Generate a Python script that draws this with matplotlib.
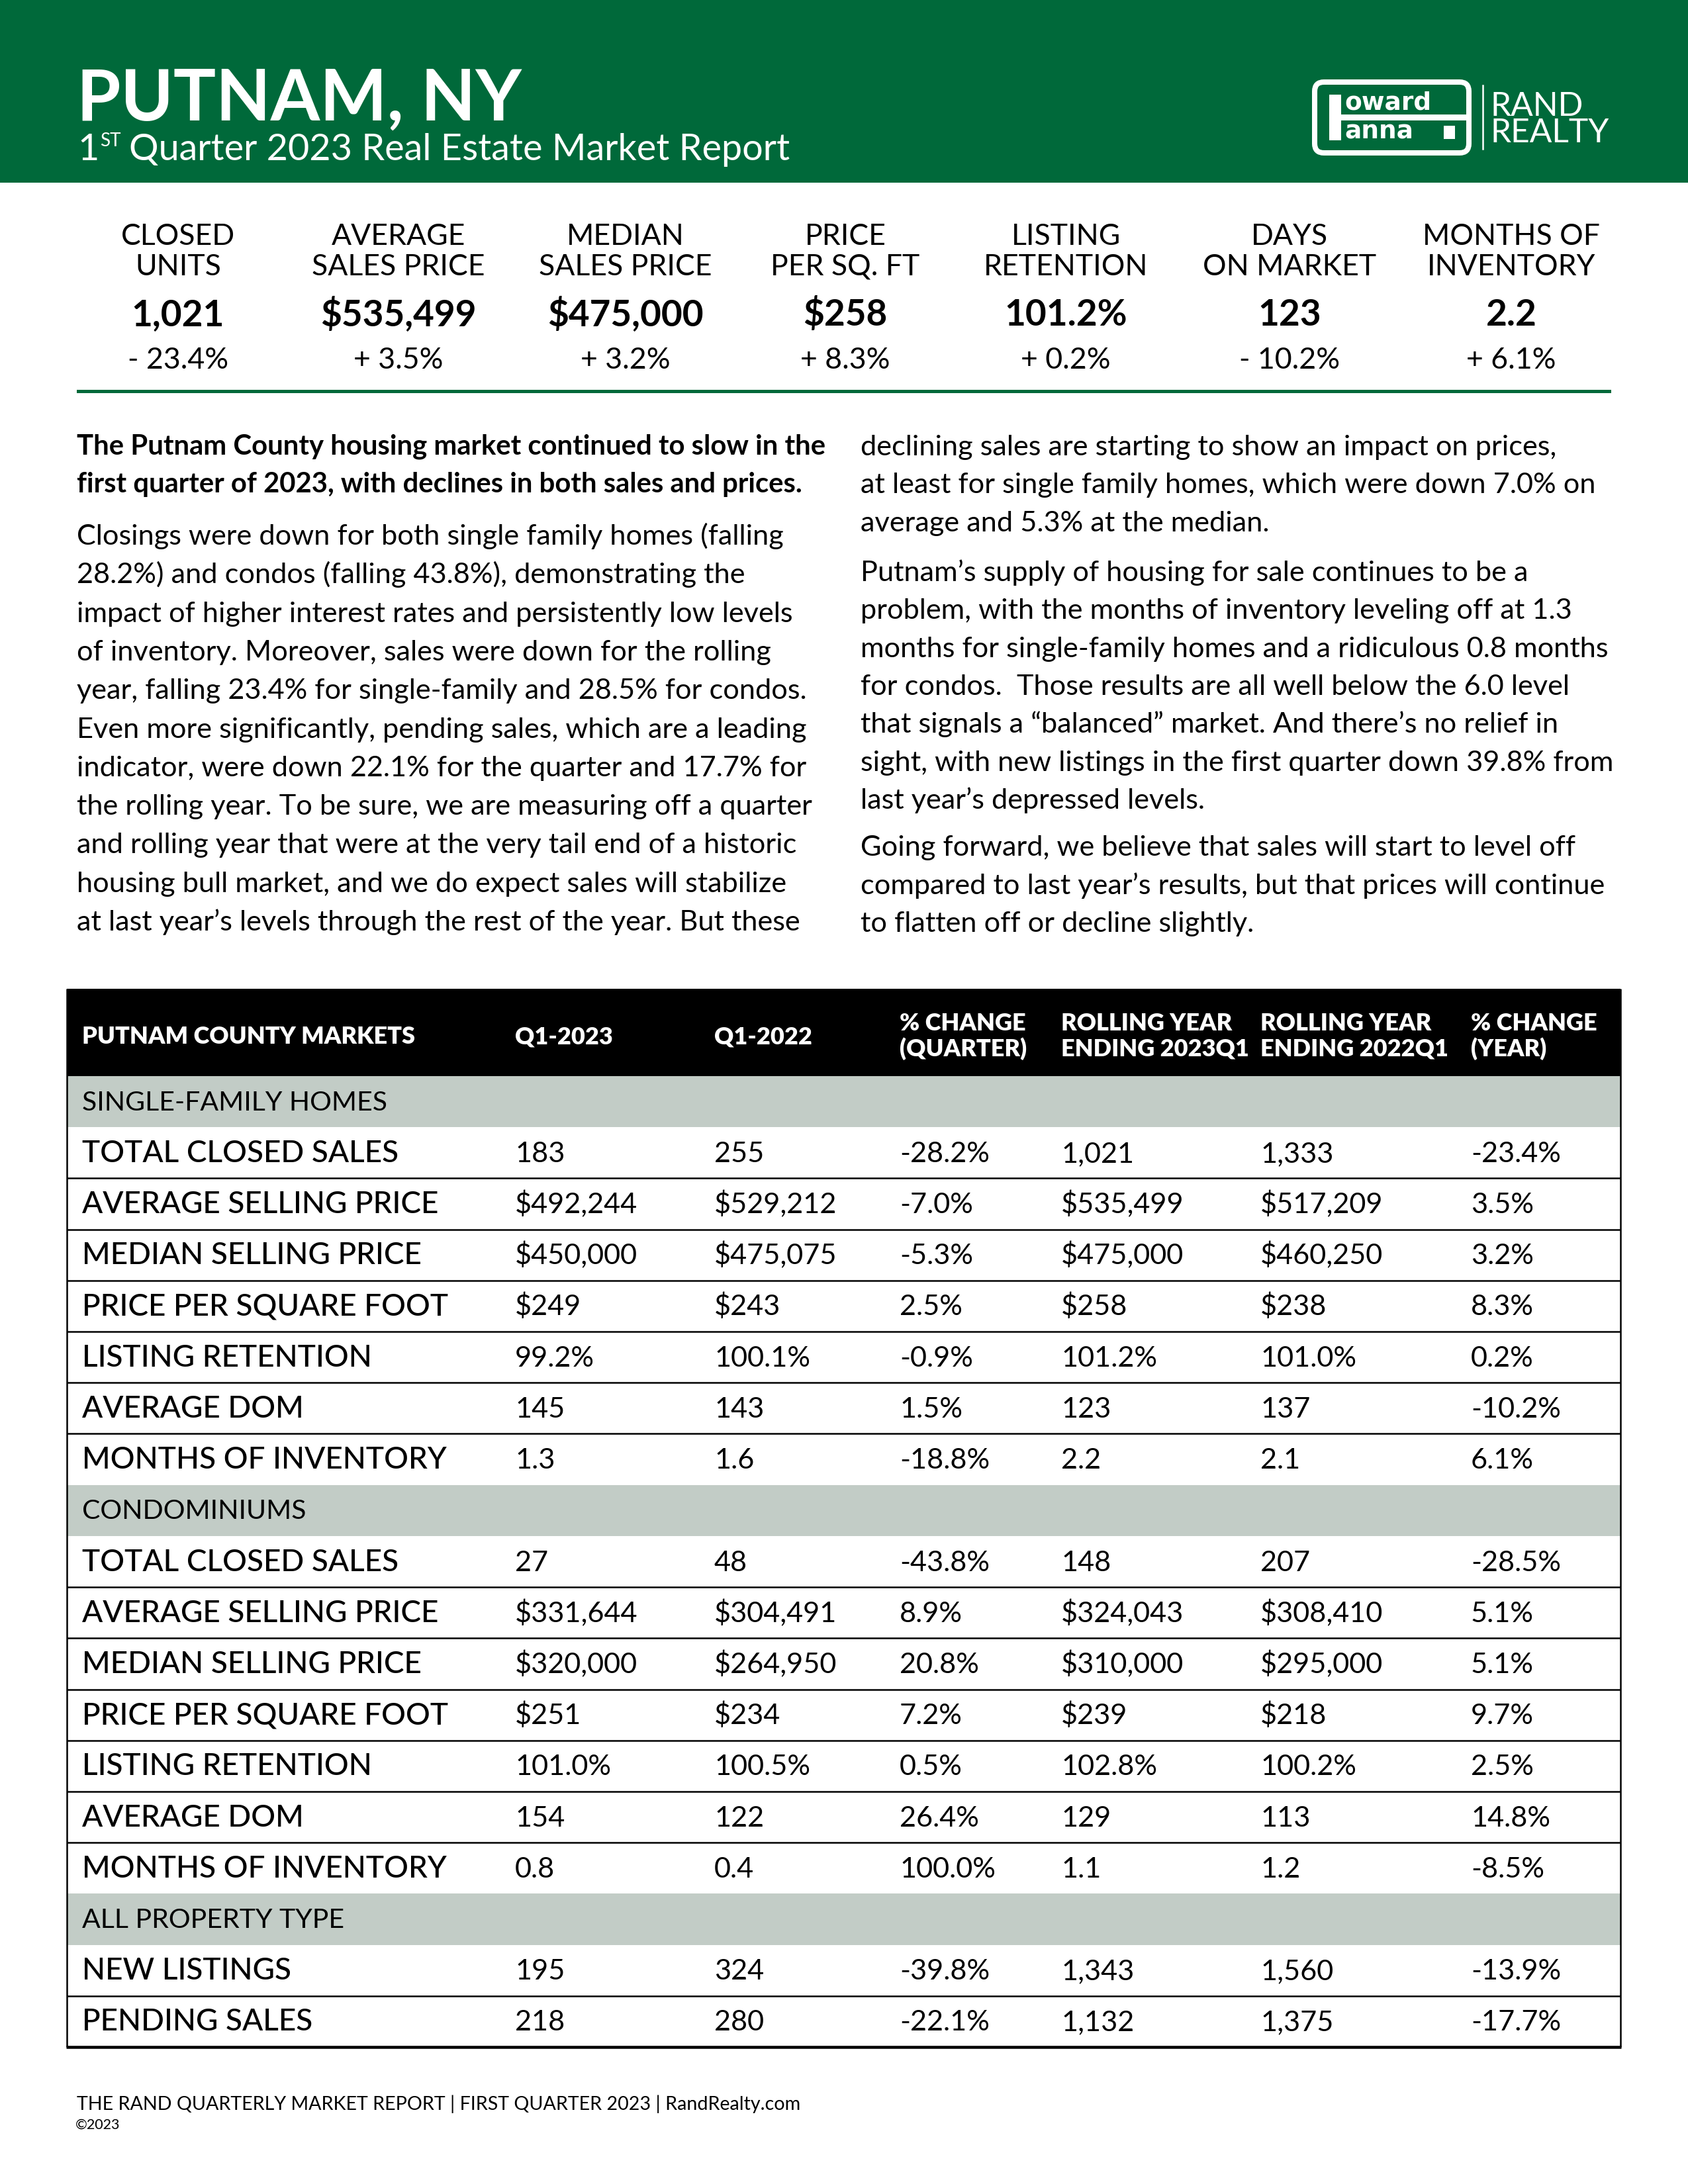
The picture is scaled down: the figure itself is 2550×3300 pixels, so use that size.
import matplotlib
matplotlib.use('Agg')
import matplotlib.pyplot as plt
from matplotlib.patches import Rectangle, FancyBboxPatch

# ---------------- DATA ----------------
title = "PUTNAM, NY"
subtitle_rest = "Quarter 2023 Real Estate Market Report"

stat_labels_1 = ["CLOSED", "AVERAGE", "MEDIAN", "PRICE", "LISTING", "DAYS", "MONTHS OF"]
stat_labels_2 = ["UNITS", "SALES PRICE", "SALES PRICE", "PER SQ. FT", "RETENTION", "ON MARKET", "INVENTORY"]
stat_values = ["1,021", "$535,499", "$475,000", "$258", "101.2%", "123", "2.2"]
stat_changes = ["- 23.4%", "+ 3.5%", "+ 3.2%", "+ 8.3%", "+ 0.2%", "- 10.2%", "+ 6.1%"]

intro_bold = ["The Putnam County housing market continued to slow in the",
              "first quarter of 2023, with declines in both sales and prices."]
left_para = ["Closings were down for both single family homes (falling",
             "28.2%) and condos (falling 43.8%), demonstrating the",
             "impact of higher interest rates and persistently low levels",
             "of inventory. Moreover, sales were down for the rolling",
             "year, falling 23.4% for single-family and 28.5% for condos.",
             "Even more significantly, pending sales, which are a leading",
             "indicator, were down 22.1% for the quarter and 17.7% for",
             "the rolling year. To be sure, we are measuring off a quarter",
             "and rolling year that were at the very tail end of a historic",
             "housing bull market, and we do expect sales will stabilize",
             "at last year\u2019s levels through the rest of the year. But these"]
right_para1 = ["declining sales are starting to show an impact on prices,",
               "at least for single family homes, which were down 7.0% on",
               "average and 5.3% at the median."]
right_para2 = ["Putnam\u2019s supply of housing for sale continues to be a",
               "problem, with the months of inventory leveling off at 1.3",
               "months for single-family homes and a ridiculous 0.8 months",
               "for condos.  Those results are all well below the 6.0 level",
               "that signals a \u201cbalanced\u201d market. And there\u2019s no relief in",
               "sight, with new listings in the first quarter down 39.8% from",
               "last year\u2019s depressed levels."]
right_para3 = ["Going forward, we believe that sales will start to level off",
               "compared to last year\u2019s results, but that prices will continue",
               "to flatten off or decline slightly."]

col_headers = ["PUTNAM COUNTY MARKETS", "Q1-2023", "Q1-2022", "% CHANGE\n(QUARTER)",
               "ROLLING YEAR\nENDING 2023Q1", "ROLLING YEAR\nENDING 2022Q1", "% CHANGE\n(YEAR)"]

sections = ["SINGLE-FAMILY HOMES", "CONDOMINIUMS", "ALL PROPERTY TYPE"]

sf_metrics = ["TOTAL CLOSED SALES", "AVERAGE SELLING PRICE", "MEDIAN SELLING PRICE",
              "PRICE PER SQUARE FOOT", "LISTING RETENTION", "AVERAGE DOM", "MONTHS OF INVENTORY"]
sf_q1_2023 = ["183", "$492,244", "$450,000", "$249", "99.2%", "145", "1.3"]
sf_q1_2022 = ["255", "$529,212", "$475,075", "$243", "100.1%", "143", "1.6"]
sf_chg_q = ["-28.2%", "-7.0%", "-5.3%", "2.5%", "-0.9%", "1.5%", "-18.8%"]
sf_roll_2023 = ["1,021", "$535,499", "$475,000", "$258", "101.2%", "123", "2.2"]
sf_roll_2022 = ["1,333", "$517,209", "$460,250", "$238", "101.0%", "137", "2.1"]
sf_chg_y = ["-23.4%", "3.5%", "3.2%", "8.3%", "0.2%", "-10.2%", "6.1%"]

condo_metrics = sf_metrics
condo_q1_2023 = ["27", "$331,644", "$320,000", "$251", "101.0%", "154", "0.8"]
condo_q1_2022 = ["48", "$304,491", "$264,950", "$234", "100.5%", "122", "0.4"]
condo_chg_q = ["-43.8%", "8.9%", "20.8%", "7.2%", "0.5%", "26.4%", "100.0%"]
condo_roll_2023 = ["148", "$324,043", "$310,000", "$239", "102.8%", "129", "1.1"]
condo_roll_2022 = ["207", "$308,410", "$295,000", "$218", "100.2%", "113", "1.2"]
condo_chg_y = ["-28.5%", "5.1%", "5.1%", "9.7%", "2.5%", "14.8%", "-8.5%"]

all_metrics = ["NEW LISTINGS", "PENDING SALES"]
all_q1_2023 = ["195", "218"]
all_q1_2022 = ["324", "280"]
all_chg_q = ["-39.8%", "-22.1%"]
all_roll_2023 = ["1,343", "1,132"]
all_roll_2022 = ["1,560", "1,375"]
all_chg_y = ["-13.9%", "-17.7%"]

footer = "THE RAND QUARTERLY MARKET REPORT | FIRST QUARTER 2023 | RandRealty.com"
copyright_txt = "\u00a92023"

# ---------------- STYLE ----------------
GREEN = '#00693A'
GRAY = '#C2CCC6'
FAM = ['Lato', 'DejaVu Sans']
LOGO_FAM = ['DejaVu Sans']
W, H, DPI = 2550, 3300, 300
PT = 72.0 / DPI  # points per pixel

fig = plt.figure(figsize=(W / DPI, H / DPI), dpi=DPI)
ax = fig.add_axes([0, 0, 1, 1])
ax.set_xlim(0, W)
ax.set_ylim(H, 0)
ax.axis('off')
renderer = fig.canvas.get_renderer()


def tw(s, size, weight='normal', family=FAM):
    t = ax.text(0, 0, s, fontsize=size, fontweight=weight, family=family)
    w = t.get_window_extent(renderer).width
    t.remove()
    return w


def fit(s, target, weight='normal', family=FAM):
    return 20.0 * target / tw(s, 20, weight, family)


def put(x, y, s, size, weight='normal', color='black', ha='left', family=FAM):
    ax.text(x, y, s, fontsize=size, fontweight=weight, family=family,
            color=color, ha=ha, va='baseline')


# ---------------- HEADER ----------------
ax.add_patch(Rectangle((0, 0), W, 276, color=GREEN, lw=0))
put(116, 182, title, fit(title, 673, 'bold'), 'bold', 'white')

sub_size = fit(subtitle_rest, 998)
put(117, 242, "1", sub_size, 'normal', 'white')
st_x = 117 + tw("1", sub_size) + 2
put(st_x, 221, "ST", sub_size * 0.5, 'normal', 'white')
put(195, 242, subtitle_rest, sub_size, 'normal', 'white')

# logo
ax.add_patch(FancyBboxPatch((1986, 124), 233, 107,
                            boxstyle="round,pad=0,rounding_size=14",
                            fill=False, ec='white', lw=8 * PT))
ax.add_patch(Rectangle((2008, 143), 18, 69, color='white', lw=0))
ax.add_patch(Rectangle((2008, 173), 207, 9, color='white', lw=0))
logo_txt_size = 9.0
put(2031, 166, "oward", logo_txt_size, 'bold', 'white', family=LOGO_FAM)
put(2031, 210, "anna", logo_txt_size, 'bold', 'white', family=LOGO_FAM)
ax.add_patch(Rectangle((2181, 190), 17, 20, color='white', lw=0))
ax.plot([2240, 2240], [129, 225], color='white', lw=2.5 * PT)
logo_size = fit("REALTY", 180)
put(2252, 175, "RAND", logo_size, 'normal', 'white')
put(2252, 215, "REALTY", logo_size, 'normal', 'white')

# ---------------- KEY STATS ----------------
stat_x = [269, 602, 945, 1277, 1610, 1948, 2283]
lab_size = fit("SALES PRICE", 261)
val_size = fit("$535,499", 236, 'bold')
chg_size = fit("- 23.4%", 152)
for i, x in enumerate(stat_x):
    put(x, 370, stat_labels_1[i], lab_size, ha='center')
    put(x, 416, stat_labels_2[i], lab_size, ha='center')
    put(x, 492, stat_values[i], val_size, 'bold', ha='center')
    put(x, 557, stat_changes[i], chg_size, ha='center')
ax.add_patch(Rectangle((116, 589), 2434 - 116, 4.5, color=GREEN, lw=0))

# ---------------- BODY TEXT ----------------
body_size = fit(left_para[0], 1071)
bold_size = fit(intro_bold[0], 1134, 'bold')
put(116, 686, intro_bold[0], bold_size, 'bold')
put(116, 744, intro_bold[1], bold_size, 'bold')
for i, line in enumerate(left_para):
    put(116, 823 + 58.3 * i, line, body_size)

RX = 1300
for i, line in enumerate(right_para1):
    put(RX, 688 + 57.5 * i, line, body_size)
for i, line in enumerate(right_para2):
    put(RX, 878 + 57.3 * i, line, body_size)
for i, line in enumerate(right_para3):
    put(RX, 1293 + 57.5 * i, line, body_size)

# ---------------- TABLE ----------------
TL, TR = 101, 2448
HT, HB = 1494, 1626
BOT = 3093
col_x = [124, 778, 1079, 1359, 1603, 1904, 2222]

ax.add_patch(Rectangle((TL, HT), TR - TL, HB - HT, color='black', lw=0))
hdr_size = min(fit("PUTNAM COUNTY MARKETS", 532, 'heavy'),
               fit("ENDING 2023Q1", 284, 'heavy'))
for cx, h in zip(col_x, col_headers):
    parts = h.split("\n")
    if len(parts) == 1:
        put(cx, 1577, parts[0], hdr_size, 'heavy', 'white')
    else:
        put(cx, 1557, parts[0], hdr_size, 'heavy', 'white')
        put(cx, 1596, parts[1], hdr_size, 'heavy', 'white')

groups = [
    (sections[0], sf_metrics, [sf_q1_2023, sf_q1_2022, sf_chg_q, sf_roll_2023, sf_roll_2022, sf_chg_y]),
    (sections[1], condo_metrics, [condo_q1_2023, condo_q1_2022, condo_chg_q, condo_roll_2023, condo_roll_2022, condo_chg_y]),
    (sections[2], all_metrics, [all_q1_2023, all_q1_2022, all_chg_q, all_roll_2023, all_roll_2022, all_chg_y]),
]
n_rows = sum(1 + len(g[1]) for g in groups)
rh = (BOT - HB) / n_rows

sec_size = fit("SINGLE-FAMILY HOMES", 461)
lab_row_size = fit("AVERAGE SELLING PRICE", 540, 'medium')
val_row_size = fit("$492,244", 186)

r = 0
for sec, metrics, cols in groups:
    top = HB + r * rh
    ax.add_patch(Rectangle((TL, top), TR - TL, rh, color=GRAY, lw=0))
    put(124, top + rh / 2 + 13, sec, sec_size)
    r += 1
    for j, m in enumerate(metrics):
        top = HB + r * rh
        base = top + rh / 2 + 14
        put(col_x[0], base, m, lab_row_size, 'medium')
        for k, col in enumerate(cols):
            put(col_x[k + 1], base, col[j], val_row_size)
        if j < len(metrics) - 1:
            ax.plot([TL, TR], [top + rh, top + rh], color='black', lw=2.5 * PT,
                    solid_capstyle='butt')
        r += 1

ax.plot([TL, TL], [HT, BOT], color='black', lw=2.5 * PT, solid_capstyle='butt')
ax.plot([TR, TR], [HT, BOT], color='black', lw=2.5 * PT, solid_capstyle='butt')
ax.plot([TL - 1, TR + 1], [BOT, BOT], color='black', lw=4.5 * PT, solid_capstyle='butt')

# ---------------- FOOTER ----------------
put(116, 3188, footer, fit(footer, 1094), 'normal')
put(114, 3217, copyright_txt, fit(copyright_txt, 68), 'normal')

fig.savefig('out.png', dpi=DPI)
